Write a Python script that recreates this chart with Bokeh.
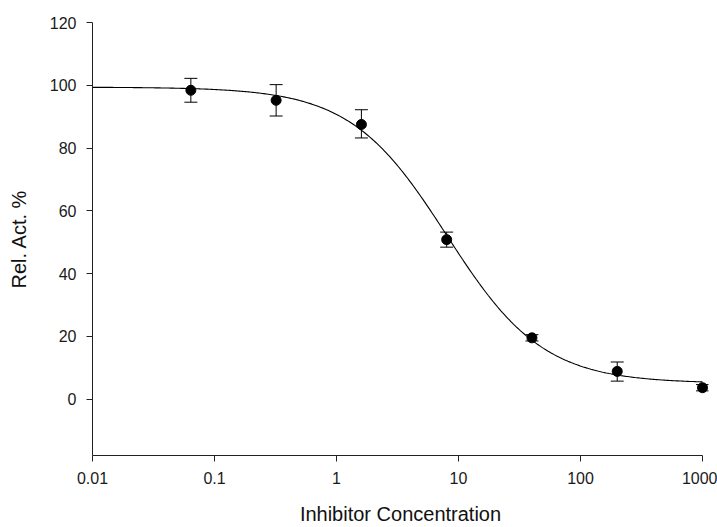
import numpy as np
from bokeh.plotting import figure
from bokeh.models import (ColumnDataSource, Whisker, TeeHead, FixedTicker,
                          NumeralTickFormatter, Range1d)
from bokeh.embed import file_html
from bokeh.resources import INLINE

# Data
conc = [0.064, 0.32, 1.6, 8, 40, 200, 1000]
activity = [98.4, 95.2, 87.5, 50.8, 19.5, 8.8, 3.6]
err_upper = [102.2, 100.2, 92.2, 53.2, 20.5, 11.8, 4.6]
err_lower = [94.6, 90.2, 83.2, 48.4, 18.5, 5.7, 2.6]

# Fitted four-parameter logistic curve parameters
fit_top = 99.4
fit_bottom = 5.0
fit_ic50 = 8.0
fit_hill = 1.1

x_ticks = [0.01, 0.1, 1, 10, 100, 1000]
y_ticks = [0, 20, 40, 60, 80, 100, 120]
x_title = "Inhibitor Concentration"
y_title = "Rel. Act. %"

FONT = "Liberation Sans"

p = figure(width=717, height=527, x_axis_type="log",
           x_range=Range1d(0.01, 1120), y_range=Range1d(-18, 120),
           output_backend="svg", toolbar_location=None,
           min_border_left=92, min_border_right=9,
           min_border_top=22, min_border_bottom=72)
p.outline_line_color = None
p.xgrid.visible = False
p.ygrid.visible = False
p.background_fill_color = "white"
p.border_fill_color = "white"

curve_x = np.logspace(-2, 3, 400)
curve_y = fit_bottom + (fit_top - fit_bottom) / (1 + (curve_x / fit_ic50) ** fit_hill)
p.line(curve_x, curve_y, line_color="black", line_width=1.1)

src = ColumnDataSource(dict(x=conc, y=activity, upper=err_upper, lower=err_lower))
w = Whisker(base="x", upper="upper", lower="lower", source=src,
            line_color="black", line_width=1,
            upper_head=TeeHead(size=13, line_color="black", line_width=1),
            lower_head=TeeHead(size=13, line_color="black", line_width=1))
p.add_layout(w)
p.scatter("x", "y", source=src, size=10, color="black")

for ax in (p.xaxis[0], p.yaxis[0]):
    ax.axis_line_color = "#222222"
    ax.major_tick_line_color = "#222222"
    ax.major_tick_out = 6
    ax.major_tick_in = 0
    ax.minor_tick_line_color = None
    ax.major_label_text_font = FONT
    ax.major_label_text_font_size = "16px"
    ax.major_label_text_color = "#1a1a1a"
    ax.axis_label_text_font = FONT
    ax.axis_label_text_font_size = "20px"
    ax.axis_label_text_font_style = "normal"
    ax.axis_label_text_color = "#111111"

p.xaxis.ticker = FixedTicker(ticks=x_ticks)
p.xaxis.bounds = (0.01, 1000)
p.xaxis.formatter = NumeralTickFormatter(format="0.[00]")
p.xaxis.axis_label = x_title
p.xaxis.major_label_standoff = 10
p.xaxis.axis_label_standoff = 16

p.yaxis.ticker = FixedTicker(ticks=y_ticks)
p.yaxis.bounds = (-18, 120)
p.yaxis.axis_label = y_title
p.yaxis.major_label_standoff = 10
p.yaxis.axis_label_standoff = 17

open("out.html", "w").write(file_html(p, INLINE))
